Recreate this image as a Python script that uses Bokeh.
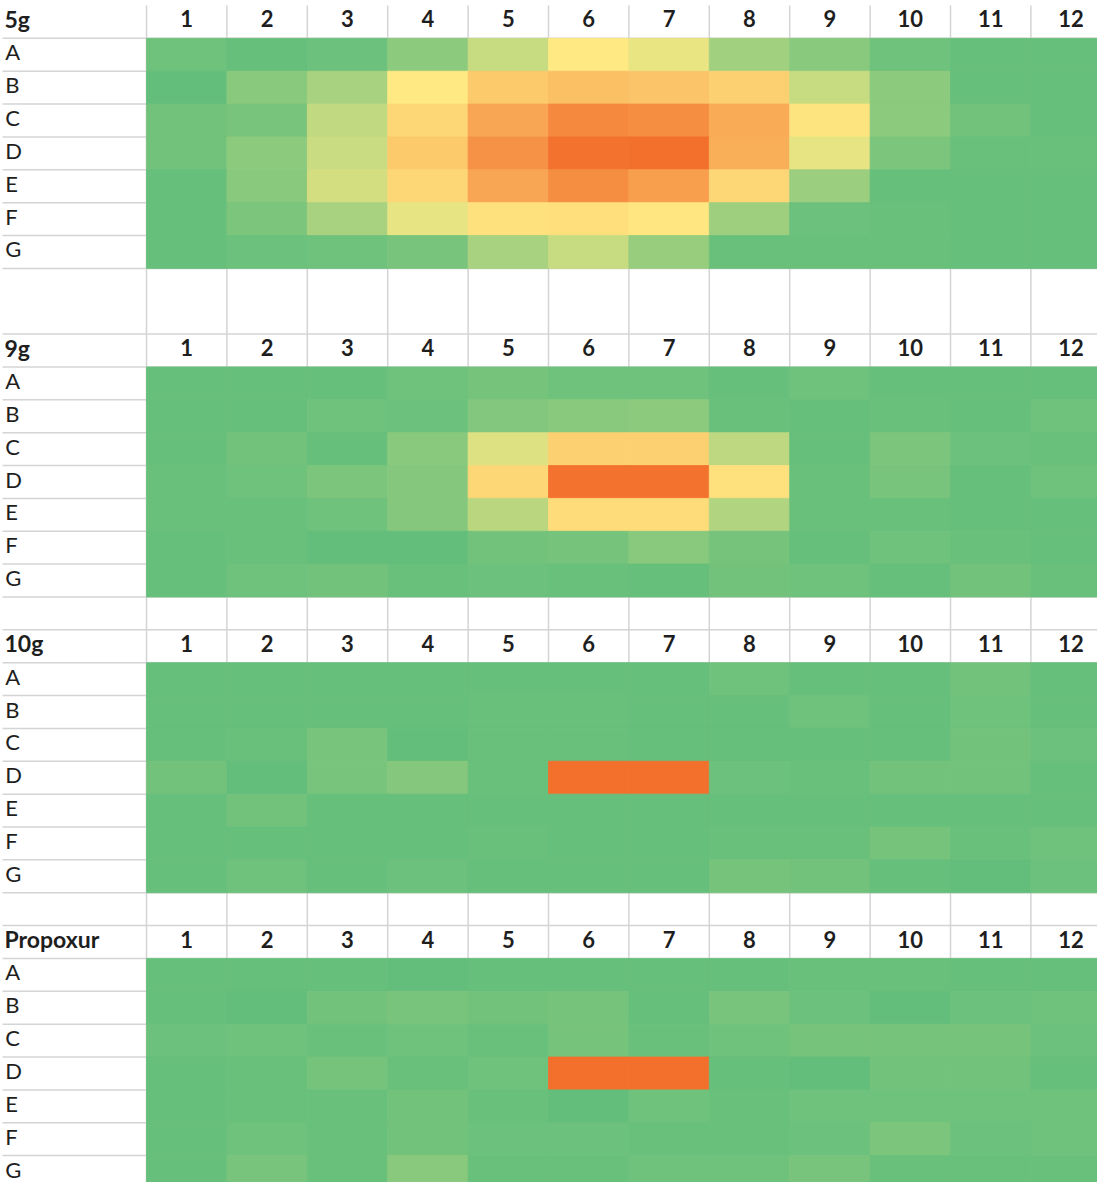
from bokeh.plotting import figure
from bokeh.models import Range1d, ColumnDataSource, LinearColorMapper
from bokeh.core.properties import value
from bokeh.embed import file_html
from bokeh.resources import INLINE

# ---------------- data ----------------
panels = ["5g", "9g", "10g", "Propoxur"]
rows = ["A", "B", "C", "D", "E", "F", "G"]
cols = [str(i) for i in range(1, 13)]

v5g = [
    [4, 1, 3, 13, 32, 51, 43, 20, 12, 4, 1, 1],
    [0, 12, 22, 51, 64, 68, 66, 61, 32, 13, 1, 1],
    [5, 7, 30, 58, 78, 90, 88, 76, 53, 13, 5, 1],
    [5, 13, 33, 64, 86, 99, 100, 75, 42, 8, 2, 2],
    [1, 12, 36, 58, 78, 88, 81, 58, 18, 1, 1, 1],
    [1, 8, 22, 42, 54, 55, 52, 19, 3, 2, 1, 1],
    [1, 3, 4, 7, 22, 32, 17, 2, 2, 2, 1, 1],
]
v9g = [
    [1, 1, 1, 4, 6, 4, 4, 1, 4, 1, 1, 1],
    [1, 1, 4, 3, 10, 12, 13, 2, 1, 2, 1, 4],
    [1, 5, 1, 12, 39, 61, 61, 29, 1, 8, 3, 2],
    [2, 4, 8, 11, 58, 99, 99, 54, 2, 7, 1, 4],
    [2, 2, 4, 11, 28, 56, 56, 25, 2, 2, 1, 1],
    [1, 2, 0, 0, 5, 6, 12, 6, 1, 4, 2, 1],
    [1, 4, 5, 2, 3, 2, 1, 5, 4, 1, 5, 2],
]
v10g = [
    [1, 1, 1, 1, 1, 1, 1, 4, 1, 1, 5, 1],
    [1, 1, 1, 1, 2, 2, 1, 1, 4, 1, 4, 1],
    [1, 2, 7, 0, 2, 2, 1, 1, 1, 1, 5, 3],
    [5, 0, 7, 11, 2, 100, 100, 3, 2, 5, 5, 1],
    [1, 5, 1, 1, 1, 1, 1, 1, 1, 1, 1, 1],
    [1, 1, 1, 1, 2, 1, 1, 2, 2, 6, 2, 4],
    [1, 4, 1, 3, 1, 1, 1, 6, 5, 1, 0, 3],
]
vprop = [
    [1, 1, 1, 0, 1, 1, 1, 1, 2, 2, 1, 1],
    [1, 0, 5, 7, 5, 6, 1, 7, 3, 0, 3, 4],
    [3, 4, 2, 4, 2, 6, 2, 4, 6, 6, 6, 3],
    [1, 2, 6, 2, 4, 100, 100, 1, 0, 5, 5, 1],
    [1, 2, 2, 5, 2, 0, 4, 2, 4, 4, 4, 4],
    [1, 4, 2, 5, 3, 3, 2, 2, 3, 8, 3, 4],
    [1, 7, 2, 12, 2, 2, 4, 4, 7, 2, 2, 2],
]
values = [v5g, v9g, v10g, vprop]

# ---------------- layout constants ----------------
W, H = 1097, 1182
COLW, ROWH = 80.4, 32.86
X0, Y0 = 146.0, 5.0          # pixel position of column-grid origin
panel_start = [0, 10, 19, 28]  # row index of each panel's header row
n_rows_total = 36
TY = -0.09                     # small upward nudge of texts (rows)

def hex2rgb(h):
    h = h.lstrip("#")
    return tuple(int(h[i:i + 2], 16) for i in (0, 2, 4))

def rgb2hex(c):
    return "#%02x%02x%02x" % tuple(int(round(v)) for v in c)

green, yellow, orange = hex2rgb("#63BE7B"), hex2rgb("#FFEB84"), hex2rgb("#F3702C")
palette = []
for i in range(201):
    t = i / 200
    if t <= 0.5:
        f = t / 0.5
        a, b = green, yellow
    else:
        f = (t - 0.5) / 0.5
        a, b = yellow, orange
    palette.append(rgb2hex([a[k] + (b[k] - a[k]) * f for k in range(3)]))
mapper = LinearColorMapper(palette=palette, low=0, high=100)

p = figure(width=W, height=H, output_backend="svg", toolbar_location=None,
           x_range=Range1d(-X0 / COLW, (W - X0) / COLW),
           y_range=Range1d((H - Y0) / ROWH, -Y0 / ROWH),
           min_border=0, min_border_left=0, min_border_right=0,
           min_border_top=0, min_border_bottom=0)
p.axis.visible = False
p.grid.visible = False
p.outline_line_color = None
p.background_fill_color = "white"
p.border_fill_color = "white"

GRID = "#d4d4d4"
# horizontal gridlines
hb = [b for b in range(1, n_rows_total + 1) if b != 9]
p.segment(x0=[-(X0 - 2) / COLW] * len(hb), x1=[13] * len(hb), y0=hb, y1=hb,
          line_color=GRID, line_width=1.5)
# vertical gridlines
vb = list(range(0, 13))
p.segment(x0=vb, x1=vb, y0=[0] * len(vb), y1=[n_rows_total + 1] * len(vb),
          line_color=GRID, line_width=1.5)

# heatmap cells
xs, ys, vs = [], [], []
for s, mat in zip(panel_start, values):
    for r, rowvals in enumerate(mat):
        for c, v in enumerate(rowvals):
            xs.append(c + 0.5)
            ys.append(s + 1 + r + 0.5)
            vs.append(v)
src = ColumnDataSource(dict(x=xs, y=ys, v=vs))
p.rect(x="x", y="y", width=1, height=1, source=src,
       fill_color={"field": "v", "transform": mapper},
       line_color={"field": "v", "transform": mapper}, line_width=0.8)

# texts
TXT = "#1e1e1e"
LX = -(X0 - 4) / COLW
hx, hy, ht = [], [], []
for s, name in zip(panel_start, panels):
    hx.append(LX); hy.append(s + 0.5 + TY); ht.append(name)
p.text(x=hx, y=hy, text=ht, text_font=value("Lato"), text_font_style="bold",
       text_font_size="23px", text_color=TXT, text_baseline="middle", text_align="left")

cx, cy, ct = [], [], []
for s in panel_start:
    for j, lab in enumerate(cols):
        cx.append(j + 0.5); cy.append(s + 0.5 + TY); ct.append(lab)
p.text(x=cx, y=cy, text=ct, text_font=value("Lato"), text_font_style="bold",
       text_font_size="22px", text_color=TXT, text_baseline="middle", text_align="center")

rx, ry, rt = [], [], []
for s in panel_start:
    for r, lab in enumerate(rows):
        rx.append(LX + 0.01); ry.append(s + 1 + r + 0.5 + TY); rt.append(lab)
p.text(x=rx, y=ry, text=rt, text_font=value("Lato"), text_font_style="normal",
       text_font_size="22px", text_color=TXT, text_baseline="middle", text_align="left")

open("out.html", "w").write(file_html(p, INLINE))
